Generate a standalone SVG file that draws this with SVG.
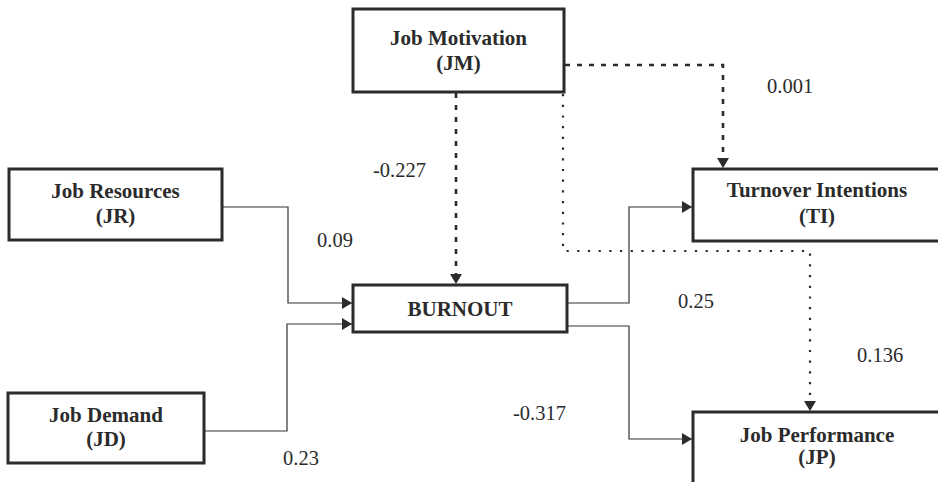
<svg xmlns="http://www.w3.org/2000/svg" width="938" height="482" viewBox="0 0 938 482">
<style>
.box{fill:#fff;stroke:#2b2b2b;stroke-width:3}
.t{font-weight:bold;font-size:21px;fill:#2b2b2b;text-anchor:middle}
.lab{font-size:20.5px;fill:#2b2b2b}
.c{fill:none;stroke:#333;stroke-width:1.2}
.d{fill:none;stroke:#2b2b2b;stroke-width:2.6;stroke-dasharray:5 7}
.o{fill:none;stroke:#2b2b2b;stroke-width:2.2;stroke-dasharray:2.2 8.5}
</style>
<defs>
<marker id="ah" markerUnits="userSpaceOnUse" markerWidth="11" markerHeight="12" refX="10" refY="6" orient="auto">
<path d="M0,0 L10,6 L0,12 Z" fill="#2b2b2b"/>
</marker>
</defs>
<rect width="938" height="482" fill="#fff"/>
<g id="connectors">
<path class="c" d="M222,207 H288 V303 H352" marker-end="url(#ah)"/>
<path class="c" d="M204,431 H287 V324 H352" marker-end="url(#ah)"/>
<path class="c" d="M567,303 H629 V207 H692" marker-end="url(#ah)"/>
<path class="c" d="M567,326 H629 V439 H692" marker-end="url(#ah)"/>
<path class="d" d="M456,93 V284" marker-end="url(#ah)"/>
<path class="d" d="M565,65 H723 V168" marker-end="url(#ah)"/>
<path class="o" d="M563,94 V251 H810 V411" marker-end="url(#ah)"/>
</g>
<g font-family="Liberation Serif, Times New Roman, DejaVu Serif, serif">
<g id="JM">
<rect class="box" x="353" y="9" width="211" height="83"/>
<text class="t" x="458.5" y="45">Job Motivation</text>
<text class="t" x="458.5" y="70">(JM)</text>
</g>
<g id="JR">
<rect class="box" x="9" y="169" width="213" height="71"/>
<text class="t" x="115.5" y="198">Job Resources</text>
<text class="t" x="115.5" y="223">(JR)</text>
</g>
<g id="JD">
<rect class="box" x="8" y="393" width="196" height="70"/>
<text class="t" x="106" y="422">Job Demand</text>
<text class="t" x="106" y="446">(JD)</text>
</g>
<g id="BURNOUT">
<rect class="box" x="353" y="285" width="214" height="47"/>
<text class="t" x="460" y="316">BURNOUT</text>
</g>
<g id="TI">
<rect class="box" x="693" y="169" width="250" height="72"/>
<text class="t" x="817" y="197">Turnover Intentions</text>
<text class="t" x="817" y="223">(TI)</text>
</g>
<g id="JP">
<rect class="box" x="693" y="412" width="250" height="80"/>
<text class="t" x="817" y="442">Job Performance</text>
<text class="t" x="817" y="464">(JP)</text>
</g>
<g id="labels">
<text class="lab" x="767" y="93">0.001</text>
<text class="lab" x="373" y="177">-0.227</text>
<text class="lab" x="317" y="247">0.09</text>
<text class="lab" x="678" y="308">0.25</text>
<text class="lab" x="857" y="362">0.136</text>
<text class="lab" x="513" y="420">-0.317</text>
<text class="lab" x="283" y="465">0.23</text>
</g>
</g>
</svg>
